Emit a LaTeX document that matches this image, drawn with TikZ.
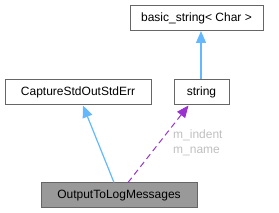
\documentclass[tikz,border=0pt]{standalone}
\usepackage{fontspec}
\setmainfont{Liberation Sans}
\usetikzlibrary{arrows.meta,positioning}
\definecolor{boxline}{HTML}{666666}
\definecolor{boxgray}{HTML}{999999}
\definecolor{inherit}{HTML}{63B8FF}
\definecolor{usage}{HTML}{9A32CD}
\definecolor{labelgray}{HTML}{BFBFBF}
\tikzset{
  classbox/.style={draw=boxline, fill=white, line width=1pt, minimum height=25pt,
    inner sep=0pt, font=\fontsize{12}{14}\selectfont},
  focusbox/.style={classbox, fill=boxgray},
  inharr/.style={-{Triangle[length=12pt,width=10pt]}, draw=inherit, line width=1.2pt},
  usearr/.style={-{Triangle[length=12pt,width=10pt]}, draw=usage, line width=1pt,
    dash pattern=on 6pt off 4pt},
  memberlabel/.style={text=labelgray, align=left, inner sep=0pt,
    font=\fontsize{12}{15}\selectfont}
}
\begin{document}
\begin{tikzpicture}[x=1pt, y=-1pt]
        \useasboundingbox (0,0) rectangle (279,213);
        \node[classbox, minimum width=133pt] (basic) at (196.5,18) {basic\_string< Char >};
        \node[classbox, minimum width=146pt] (capture) at (78,92.5) {CaptureStdOutStdErr};
        \node[classbox, minimum width=55pt] (string) at (201.5,92.5) {string};
        \node[focusbox, minimum width=156pt] (output) at (119,195.5) {OutputToLogMessages};
        \node[memberlabel, anchor=west] (members) at (173,143) {m\_indent\\m\_name};
        \draw[inharr] ([xshift=-0.5pt]string.north) -- ([xshift=-0.5pt]string.north |- basic.south);
        \draw[inharr] ([xshift=-5pt]output.north) -- ([xshift=5pt]capture.south);
        \draw[usearr] ([xshift=9pt]output.north) -- ([xshift=-13pt]string.south);
      \end{tikzpicture}
\end{document}
